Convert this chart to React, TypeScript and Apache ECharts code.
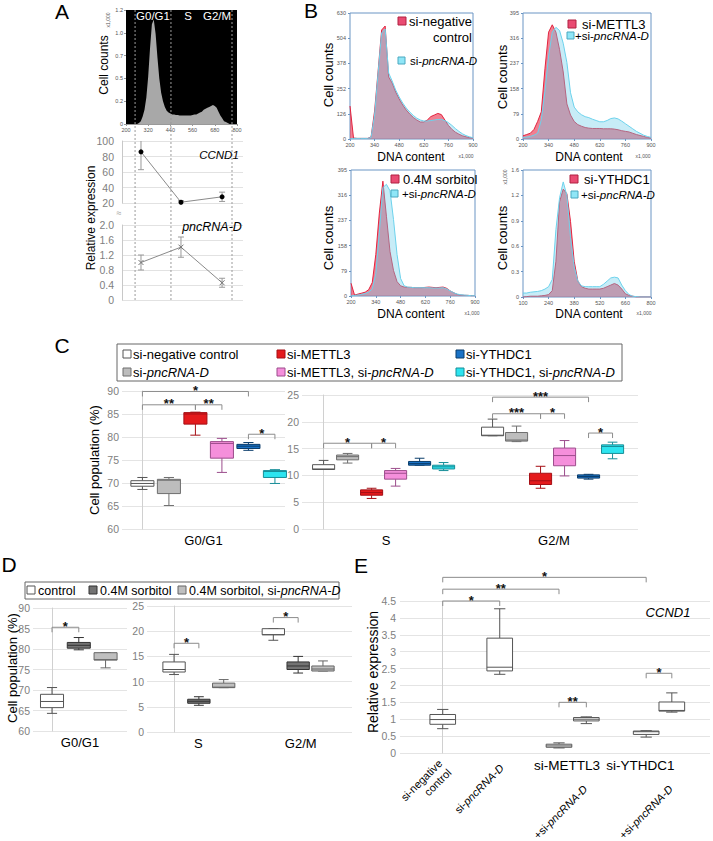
import React, { useEffect, useRef } from 'react';
import * as echarts from 'echarts';

const FONT = '"Liberation Sans", Arial, Helvetica, sans-serif';

/* ================= Panel A data ================= */
const aHistBinStart = 200;
const aHistBinStep = 10;
const aHistCounts = [
  0, 0, 0, 0, 0, 0, 0, 0.01, 0.03, 0.08,
  0.15, 0.28, 0.5, 0.8, 1.05, 1.1, 0.95, 0.7, 0.48, 0.33,
  0.24, 0.18, 0.14, 0.12, 0.11, 0.1, 0.1, 0.095, 0.095, 0.09,
  0.09, 0.09, 0.09, 0.09, 0.09, 0.09, 0.095, 0.1, 0.1, 0.11,
  0.12, 0.13, 0.15, 0.16, 0.17, 0.18, 0.19, 0.2, 0.19, 0.17,
  0.13, 0.09, 0.06, 0.03, 0.02, 0.01, 0, 0, 0, 0, 0,
];
const aHistXTicks = ['200', '320', '440', '560', '680', '800'];
const aHistYTicks = ['0', '0.2', '0.5', '0.7', '1.0', '1.2'];
const aPhaseNames = ['G0/G1', 'S', 'G2/M'];
const aPhaseDNA = [281, 497, 719];
const aPhaseBounds = [249, 443, 773];
const aCCND1 = [86, 21, 28];
const aCCND1Err = [23, 2, 6];
const aPnc = [1.0, 1.41, 0.46];
const aPncErr = [0.2, 0.27, 0.12];

/* ================= Panel B data ================= */
const bBinStep = 20;
const bBinStarts = [200, 200, 200, 100];
const b1Red = [165, 5, 3, 3, 3, 3, 10, 140, 340, 545, 565, 310, 280, 235, 200, 170, 145, 125, 108, 95, 85, 85, 95, 112, 120, 128, 122, 95, 68, 48, 34, 24, 16, 11, 7, 5];
const b1Cyan = [0, 3, 3, 3, 3, 3, 8, 120, 330, 530, 550, 330, 290, 245, 210, 180, 155, 135, 118, 104, 95, 90, 90, 92, 95, 98, 98, 92, 82, 68, 52, 38, 26, 17, 11, 6];
const b2Red = [10, 14, 18, 30, 55, 85, 220, 335, 358, 335, 280, 210, 110, 75, 55, 45, 40, 36, 34, 33, 33, 33, 32, 32, 32, 31, 29, 26, 24, 22, 18, 14, 11, 8, 5, 3];
const b2Cyan = [5, 6, 8, 12, 18, 60, 150, 260, 335, 350, 340, 300, 240, 145, 100, 85, 76, 70, 67, 62, 58, 54, 54, 58, 64, 66, 63, 56, 48, 40, 32, 24, 18, 12, 8, 5];
const b3Red = [40, 3, 6, 9, 12, 20, 42, 130, 260, 360, 250, 140, 80, 45, 32, 28, 27, 27, 26, 26, 26, 27, 28, 27, 26, 27, 28, 24, 16, 10, 5, 3, 2, 2, 1, 1];
const b3Cyan = [0, 2, 3, 5, 8, 12, 22, 70, 200, 340, 350, 330, 240, 130, 55, 32, 28, 27, 26, 26, 26, 26, 26, 25, 25, 25, 26, 22, 16, 10, 6, 4, 3, 2, 1, 1];
const b4Red = [0, 0.005, 0.01, 0.01, 0.01, 0.015, 0.02, 0.03, 0.08, 0.45, 1.2, 1.36, 1.3, 0.95, 0.45, 0.2, 0.13, 0.11, 0.1, 0.1, 0.1, 0.1, 0.11, 0.13, 0.15, 0.17, 0.15, 0.1, 0.04, 0.02, 0.01, 0, 0, 0, 0, 0];
const b4Cyan = [0.05, 0.05, 0.06, 0.065, 0.07, 0.08, 0.1, 0.13, 0.22, 0.85, 1.25, 1.45, 1.28, 0.75, 0.38, 0.2, 0.14, 0.13, 0.13, 0.13, 0.13, 0.13, 0.16, 0.2, 0.24, 0.25, 0.24, 0.15, 0.08, 0.03, 0.01, 0.005, 0, 0, 0, 0];
const bYTicks1 = ['0', '126', '252', '378', '504', '630'];
const bYTicks23 = ['0', '79', '158', '237', '316', '395'];
const bYTicks4 = ['0', '0.3', '0.6', '0.9', '1.2', '1.6'];
const bXTicks = ['200', '340', '480', '620', '760', '900'];
const bXTicks4 = ['100', '240', '380', '520', '660', '800'];
const bRedNames = ['si-negative control', 'si-METTL3', '0.4M sorbitol', 'si-YTHDC1'];
const bCyanNames = ['si-pncRNA-D', '+si-pncRNA-D', '+si-pncRNA-D', '+si-pncRNA-D'];

/* ================= Panel C data ================= */
const cConditions = ['si-negative control', 'si-pncRNA-D', 'si-METTL3', 'si-METTL3, si-pncRNA-D', 'si-YTHDC1', 'si-YTHDC1, si-pncRNA-D'];
const cPhasesRight = ['S', 'G2/M'];
// [min, q1, median, q3, max]
const cG0G1 = [
  [68.6, 69.3, 69.9, 70.5, 71.2],
  [65.1, 67.7, 70.6, 70.8, 71.2],
  [80.4, 82.8, 85.0, 85.3, 85.4],
  [72.3, 75.4, 78.6, 79.0, 79.7],
  [77.1, 77.5, 78.0, 78.4, 78.8],
  [69.9, 71.2, 72.5, 72.7, 72.9],
];
const cS = [
  [11.1, 11.1, 11.2, 12.0, 12.8],
  [12.3, 12.9, 13.5, 13.8, 14.1],
  [5.7, 6.3, 6.8, 7.3, 7.6],
  [8.0, 9.3, 10.4, 10.9, 11.3],
  [11.9, 11.9, 12.2, 12.6, 13.2],
  [10.9, 11.2, 11.6, 11.9, 12.4],
];
const cG2M = [
  [17.4, 17.4, 17.5, 19.0, 20.5],
  [16.3, 16.4, 16.6, 18.0, 19.2],
  [7.6, 8.3, 9.0, 10.4, 11.7],
  [9.9, 11.8, 13.7, 15.1, 16.5],
  [9.3, 9.5, 9.8, 10.1, 10.2],
  [13.1, 14.1, 15.4, 15.7, 16.2],
];
// [fromCondition, toCondition, y, label]
const cG0G1Sig: any[] = [[0, 4, 89.9, '*'], [0, 2, 87.0, '**'], [2, 3, 87.0, '**'], [4, 5, 80.6, '*']];
// [phase, fromCondition, toCondition, y, label]
const cRightSig: any[] = [[0, 0, 2, 16.0, '*'], [0, 2, 3, 16.0, '*'], [1, 0, 4, 24.6, '***'], [1, 0, 2, 21.5, '***'], [1, 2, 3, 21.5, '*'], [1, 4, 5, 17.9, '*']];

/* ================= Panel D data ================= */
const dConditions = ['control', '0.4M sorbitol', '0.4M sorbitol, si-pncRNA-D'];
const dG0G1 = [[64.3, 65.7, 67.2, 68.95, 70.6], [79.8, 80.2, 80.9, 81.6, 82.8], [75.4, 77.3, 77.4, 79.1, 79.1]];
const dS = [[11.4, 11.9, 12.4, 13.9, 15.4], [5.3, 5.7, 6.1, 6.5, 7.0], [8.8, 8.8, 8.9, 9.7, 10.4]];
const dG2M = [[18.2, 19.3, 19.3, 20.5, 20.5], [11.7, 12.4, 13.1, 13.9, 15.0], [12.1, 12.1, 12.5, 13.1, 14.1]];
const dG0G1Sig: any[] = [[0, 1, 85.3, '*']];
const dRightSig: any[] = [[0, 0, 1, 17.6, '*'], [1, 0, 1, 22.7, '*']];

/* ================= Panel E data ================= */
const eAxisLabels = ['si-negative\ncontrol', 'si-pncRNA-D', 'si-METTL3', '+si-pncRNA-D', 'si-YTHDC1', '+si-pncRNA-D'];
const eBoxes = [
  [0.72, 0.85, 0.99, 1.14, 1.29],
  [2.33, 2.43, 2.54, 3.40, 4.27],
  [0.15, 0.17, 0.21, 0.26, 0.30],
  [0.87, 0.95, 1.00, 1.05, 1.07],
  [0.47, 0.55, 0.63, 0.65, 0.66],
  [1.21, 1.24, 1.26, 1.51, 1.78],
];
const eSig: any[] = [[0, 1, 4.5, '*'], [0, 2, 4.85, '**'], [0, 4, 5.2, '*'], [2, 3, 1.5, '**'], [4, 5, 2.36, '*']];

/* ================= layout & style (not data) ================= */
const cLeftPos = [0, 1, 2, 3, 4, 5];
const cRightPhaseStart = [0, 7.04];
const dLeftPos = [0, 1, 2];
const dRightPhaseStart = [0, 4];
const ePos = [0, 1, 2.04, 2.52, 3.57, 4.02];
const eLabelAt = [0, 1, 2.18, 2.52, 3.47, 4.02];
const eLabelMode = ['rot', 'rot', 'flat', 'rotLow', 'flat', 'rotLow'];
const cFill = ['#ffffff', '#bdbdbd', '#e41a1c', '#f58fdb', '#1a72c6', '#2de4ef'];
const cStroke = ['#555555', '#6e6e6e', '#a50f15', '#9c4d8c', '#0b3d6b', '#178e98'];
const dFill = ['#ffffff', '#737373', '#bfbfbf'];
const dStroke = ['#555555', '#333333', '#666666'];

const ital = (s: string) => s.replace('pncRNA-D', '{i|pncRNA-D}');

function T(x: number, y: number, text: string, size: number, o: any = {}) {
  const fill = o.fill || '#000';
  const align = o.align || 'left';
  const va = o.va || 'middle';
  return {
    type: 'text', x, y, rotation: o.rot || 0, silent: true, z: 100,
    style: {
      text: ital(text), fill, fontSize: size, fontFamily: FONT,
      fontStyle: o.italic ? 'italic' : 'normal',
      align, verticalAlign: va, textAlign: align, textVerticalAlign: va,
      rich: { i: { fontStyle: 'italic', fontSize: size, fontFamily: FONT, fill } },
    },
  };
}

function lbl(arr: string[], min: number, step: number) {
  return (v: number) => {
    const k = Math.round((v - min) / step);
    return arr[k] !== undefined ? arr[k] : '';
  };
}

function boxRenderer(fill: string, stroke: string, widthUnits: number) {
  return (params: any, api: any) => {
    const x = api.value(0);
    const c = (d: number) => api.coord([x, api.value(d)]);
    const pMin = c(1), pQ1 = c(2), pMed = c(3), pQ3 = c(4), pMax = c(5);
    const cx = pMin[0];
    const w = api.size([widthUnits, 0])[0];
    const hw = w / 2, cap = w * 0.22;
    const ls = { stroke, lineWidth: 1 };
    return {
      type: 'group', children: [
        { type: 'line', shape: { x1: cx, y1: pMax[1], x2: cx, y2: pQ3[1] }, style: ls },
        { type: 'line', shape: { x1: cx - cap, y1: pMax[1], x2: cx + cap, y2: pMax[1] }, style: ls },
        { type: 'line', shape: { x1: cx, y1: pQ1[1], x2: cx, y2: pMin[1] }, style: ls },
        { type: 'line', shape: { x1: cx - cap, y1: pMin[1], x2: cx + cap, y2: pMin[1] }, style: ls },
        { type: 'rect', shape: { x: cx - hw, y: pQ3[1], width: w, height: Math.max(1, pQ1[1] - pQ3[1]) }, style: { fill, stroke, lineWidth: 1 } },
        { type: 'line', shape: { x1: cx - hw, y1: pMed[1], x2: cx + hw, y2: pMed[1] }, style: ls },
      ],
    };
  };
}

function bracketRenderer(labels: string[], leg = 5) {
  return (params: any, api: any) => {
    const p1 = api.coord([api.value(0), api.value(2)]);
    const p2 = api.coord([api.value(1), api.value(2)]);
    return {
      type: 'group', children: [
        { type: 'polyline', shape: { points: [[p1[0], p1[1] + leg], [p1[0], p1[1]], [p2[0], p2[1]], [p2[0], p2[1] + leg]] }, style: { stroke: '#8c8c8c', fill: 'none', lineWidth: 1 } },
        { type: 'text', x: (p1[0] + p2[0]) / 2, y: p1[1] - 1, style: { text: labels[params.dataIndex], fill: '#111', fontSize: 13, fontWeight: 'bold', fontFamily: FONT, align: 'center', verticalAlign: 'middle', textAlign: 'center', textVerticalAlign: 'middle' } },
      ],
    };
  };
}

function errRenderer(color: string) {
  return (params: any, api: any) => {
    const x = api.value(0);
    const lo = api.coord([x, api.value(1)]);
    const hi = api.coord([x, api.value(2)]);
    const st = { stroke: color, lineWidth: 1 };
    return {
      type: 'group', children: [
        { type: 'line', shape: { x1: lo[0], y1: lo[1], x2: hi[0], y2: hi[1] }, style: st },
        { type: 'line', shape: { x1: lo[0] - 3, y1: lo[1], x2: lo[0] + 3, y2: lo[1] }, style: st },
        { type: 'line', shape: { x1: hi[0] - 3, y1: hi[1], x2: hi[0] + 3, y2: hi[1] }, style: st },
      ],
    };
  };
}

function buildOption() {
  const grids: any[] = [], xAxes: any[] = [], yAxes: any[] = [], series: any[] = [], graphic: any[] = [];
  const addGrid = (g: any) => { grids.push({ containLabel: false, outerBoundsMode: 'none', ...g }); return grids.length - 1; };
  const addX = (a: any) => { xAxes.push({ position: 'bottom', ...a }); return xAxes.length - 1; };
  const addY = (a: any) => { yAxes.push(a); return yAxes.length - 1; };
  const grayLbl = { fontSize: 10.5, color: '#808080', fontFamily: FONT };

  /* ---------- A: histogram ---------- */
  const gAH = addGrid({ left: 126, top: 10, width: 111, height: 114, show: true, backgroundColor: '#000', borderWidth: 0 });
  const xAH = addX({ type: 'value', gridIndex: gAH, min: 200, max: 800, interval: 120, axisLine: { show: true, lineStyle: { color: '#999' } }, axisTick: { show: true, length: 2, lineStyle: { color: '#999' } }, axisLabel: { fontSize: 5.5, color: '#555', margin: 3, formatter: lbl(aHistXTicks, 200, 120) }, splitLine: { show: false } });
  const yAH = addY({ type: 'value', gridIndex: gAH, min: 0, max: 1.2, interval: 0.24, axisLine: { show: false }, axisTick: { show: true, length: 2, lineStyle: { color: '#999' } }, axisLabel: { fontSize: 5.5, color: '#555', margin: 3, formatter: lbl(aHistYTicks, 0, 0.24) }, splitLine: { show: false } });
  series.push({ type: 'line', xAxisIndex: xAH, yAxisIndex: yAH, data: aHistCounts.map((c, i) => [aHistBinStart + i * aHistBinStep, c]), symbol: 'none', lineStyle: { width: 0, color: '#a8a8a8' }, areaStyle: { color: '#a8a8a8', opacity: 1 }, z: 2 });

  /* ---------- A: relative expression (broken axis) ---------- */
  const gA1 = addGrid({ left: 122, top: 141, width: 121, height: 62 });
  const xA1 = addX({ type: 'value', gridIndex: gA1, min: 178.4, max: 832, show: false });
  const yA1 = addY({ type: 'value', gridIndex: gA1, min: 20, max: 100, interval: 20, axisLine: { show: true, lineStyle: { color: '#c8c8c8' } }, axisTick: { show: false }, axisLabel: { ...grayLbl, margin: 8 }, splitLine: { lineStyle: { color: '#e2e2e2' } } });
  const gA2 = addGrid({ left: 122, top: 225, width: 121, height: 75 });
  const xA2 = addX({ type: 'value', gridIndex: gA2, min: 178.4, max: 832, show: false });
  const yA2 = addY({ type: 'value', gridIndex: gA2, min: 0, max: 2, interval: 0.4, axisLine: { show: true, lineStyle: { color: '#c8c8c8' } }, axisTick: { show: false }, axisLabel: { ...grayLbl, margin: 8, formatter: (v: number) => (v === 0 ? '0' : v.toFixed(1)) }, splitLine: { lineStyle: { color: '#e2e2e2' } } });

  series.push({ type: 'line', name: 'CCND1', xAxisIndex: xA1, yAxisIndex: yA1, data: aPhaseDNA.map((x, i) => [x, aCCND1[i]]), symbol: 'circle', symbolSize: 5, itemStyle: { color: '#000' }, lineStyle: { color: '#8a8a8a', width: 1 }, z: 6 });
  series.push({ type: 'custom', xAxisIndex: xA1, yAxisIndex: yA1, clip: true, encode: { x: 0, y: [1, 2] }, data: aPhaseDNA.map((x, i) => [x, aCCND1[i] - aCCND1Err[i], aCCND1[i] + aCCND1Err[i]]), renderItem: errRenderer('#999'), z: 5 });
  series.push({ type: 'line', name: 'pncRNA-D', xAxisIndex: xA2, yAxisIndex: yA2, data: aPhaseDNA.map((x, i) => [x, aPnc[i]]), symbol: 'path://M0,0L10,10M10,0L0,10', symbolSize: 5, itemStyle: { color: 'none', borderColor: '#777', borderWidth: 1 }, lineStyle: { color: '#8a8a8a', width: 1 }, z: 6 });
  series.push({ type: 'custom', xAxisIndex: xA2, yAxisIndex: yA2, clip: true, encode: { x: 0, y: [1, 2] }, data: aPhaseDNA.map((x, i) => [x, aPnc[i] - aPncErr[i], aPnc[i] + aPncErr[i]]), renderItem: errRenderer('#999'), z: 5 });

  /* ---------- A: phase boundary dotted lines ---------- */
  const gAO = addGrid({ left: 126, top: 10, width: 111, height: 290 });
  const xAO = addX({ type: 'value', gridIndex: gAO, min: 200, max: 800, show: false });
  const yAO = addY({ type: 'value', gridIndex: gAO, min: 0, max: 1, show: false });
  series.push({
    type: 'custom', xAxisIndex: xAO, yAxisIndex: yAO, encode: { x: 0, y: 1 }, z: 4, data: aPhaseBounds.map((v) => [v, 0]),
    renderItem: (p: any, api: any) => {
      const a = api.coord([api.value(0), 0]);
      const b = api.coord([api.value(0), 1]);
      return { type: 'line', shape: { x1: a[0], y1: a[1], x2: b[0], y2: b[1] }, style: { stroke: '#9a9a9a', lineWidth: 1, lineDash: [2, 2] } };
    },
  });

  /* ---------- B: four DNA histograms ---------- */
  const bDefs = [
    { left: 350, top: 13, width: 123, height: 126, xMin: 200, xMax: 900, yMax: 630, yInt: 126, yT: bYTicks1, xT: bXTicks, red: b1Red, cyan: b1Cyan },
    { left: 523, top: 13, width: 128, height: 126, xMin: 200, xMax: 900, yMax: 395, yInt: 79, yT: bYTicks23, xT: bXTicks, red: b2Red, cyan: b2Cyan },
    { left: 351, top: 170, width: 124, height: 126, xMin: 200, xMax: 900, yMax: 395, yInt: 79, yT: bYTicks23, xT: bXTicks, red: b3Red, cyan: b3Cyan },
    { left: 523, top: 170, width: 128, height: 127, xMin: 100, xMax: 800, yMax: 1.6, yInt: 0.32, yT: bYTicks4, xT: bXTicks4, red: b4Red, cyan: b4Cyan },
  ];
  bDefs.forEach((d, k) => {
    const g = addGrid({ left: d.left, top: d.top, width: d.width, height: d.height, show: true, borderColor: '#6a95c4', borderWidth: 1, backgroundColor: '#fff' });
    const xi = addX({ type: 'value', gridIndex: g, min: d.xMin, max: d.xMax, interval: 140, axisLine: { show: false }, axisTick: { show: true, length: 2, lineStyle: { color: '#6a95c4' } }, axisLabel: { fontSize: 5.5, color: '#555', margin: 3, formatter: lbl(d.xT, d.xMin, 140) }, splitLine: { show: false } });
    const yi = addY({ type: 'value', gridIndex: g, min: 0, max: d.yMax, interval: d.yInt, axisLine: { show: false }, axisTick: { show: true, length: 2, lineStyle: { color: '#6a95c4' } }, axisLabel: { fontSize: 5.5, color: '#555', margin: 4, formatter: lbl(d.yT, 0, d.yInt) }, splitLine: { show: false } });
    series.push({ type: 'line', name: bRedNames[k], xAxisIndex: xi, yAxisIndex: yi, data: d.red.map((v, i) => [bBinStarts[k] + i * bBinStep, v]), symbol: 'none', lineStyle: { color: '#e2243f', width: 1 }, areaStyle: { color: 'rgba(232,40,70,0.85)' }, z: 2 });
    series.push({ type: 'line', name: bCyanNames[k], xAxisIndex: xi, yAxisIndex: yi, data: d.cyan.map((v, i) => [bBinStarts[k] + i * bBinStep, v]), symbol: 'none', lineStyle: { color: '#6cd2ec', width: 1 }, areaStyle: { color: 'rgba(110,205,235,0.55)' }, z: 3 });
  });

  /* ---------- C: box plots ---------- */
  const yStyle = (min: number, max: number) => ({ type: 'value', min, max, interval: 5, axisLine: { show: true, lineStyle: { color: '#d0d0d0' } }, axisTick: { show: false }, axisLabel: { ...grayLbl, margin: 3 }, splitLine: { lineStyle: { color: '#e4e4e4' } } });
  const catAxis = (g: number, data: string[]) => ({ type: 'category', gridIndex: g, data, axisLine: { show: false }, axisTick: { show: false }, axisLabel: { fontSize: 13, color: '#000', fontFamily: FONT, margin: 5 }, splitLine: { show: false } });

  const gCL = addGrid({ left: 122, top: 391, width: 163, height: 138 });
  const xCL = addX({ type: 'value', gridIndex: gCL, min: -0.77, max: 5.38, show: false });
  addX(catAxis(gCL, ['G0/G1']));
  const yCL = addY({ ...yStyle(60, 90), gridIndex: gCL });
  cConditions.forEach((name, ci) => {
    series.push({ type: 'custom', name, xAxisIndex: xCL, yAxisIndex: yCL, encode: { x: 0, y: [1, 2, 3, 4, 5] }, data: [[cLeftPos[ci], ...cG0G1[ci]]], renderItem: boxRenderer(cFill[ci], cStroke[ci], 0.87), z: 3 });
  });
  series.push({ type: 'custom', xAxisIndex: xCL, yAxisIndex: yCL, clip: false, z: 4, encode: { x: [0, 1], y: 2 }, data: cG0G1Sig.map((s) => [cLeftPos[s[0]], cLeftPos[s[1]], s[2]]), renderItem: bracketRenderer(cG0G1Sig.map((s) => s[3])) });

  const gCR = addGrid({ left: 302, top: 395, width: 336, height: 134 });
  const xCR = addX({ type: 'value', gridIndex: gCR, min: -0.9, max: 13.1, show: false });
  addX(catAxis(gCR, cPhasesRight));
  const yCR = addY({ ...yStyle(0, 25), gridIndex: gCR });
  cConditions.forEach((name, ci) => {
    series.push({ type: 'custom', name, xAxisIndex: xCR, yAxisIndex: yCR, encode: { x: 0, y: [1, 2, 3, 4, 5] }, data: [[cRightPhaseStart[0] + ci, ...cS[ci]], [cRightPhaseStart[1] + ci, ...cG2M[ci]]], renderItem: boxRenderer(cFill[ci], cStroke[ci], 0.92), z: 3 });
  });
  series.push({ type: 'custom', xAxisIndex: xCR, yAxisIndex: yCR, clip: false, z: 4, encode: { x: [0, 1], y: 2 }, data: cRightSig.map((s) => [cRightPhaseStart[s[0]] + s[1], cRightPhaseStart[s[0]] + s[2], s[3]]), renderItem: bracketRenderer(cRightSig.map((s) => s[4])) });

  /* ---------- D: box plots ---------- */
  const gDL = addGrid({ left: 33, top: 608, width: 94, height: 123 });
  const xDL = addX({ type: 'value', gridIndex: gDL, min: -0.71, max: 2.8, show: false });
  addX(catAxis(gDL, ['G0/G1']));
  const yDL = addY({ ...yStyle(60, 90), gridIndex: gDL });
  dConditions.forEach((name, ci) => {
    series.push({ type: 'custom', name, xAxisIndex: xDL, yAxisIndex: yDL, encode: { x: 0, y: [1, 2, 3, 4, 5] }, data: [[dLeftPos[ci], ...dG0G1[ci]]], renderItem: boxRenderer(dFill[ci], dStroke[ci], 0.86), z: 3 });
  });
  series.push({ type: 'custom', xAxisIndex: xDL, yAxisIndex: yDL, clip: false, z: 4, encode: { x: [0, 1], y: 2 }, data: dG0G1Sig.map((s) => [dLeftPos[s[0]], dLeftPos[s[1]], s[2]]), renderItem: bracketRenderer(dG0G1Sig.map((s) => s[3])) });

  const gDR = addGrid({ left: 147, top: 606, width: 205, height: 126 });
  const xDR = addX({ type: 'value', gridIndex: gDR, min: -1.09, max: 7.17, show: false });
  addX(catAxis(gDR, cPhasesRight));
  const yDR = addY({ ...yStyle(0, 25), gridIndex: gDR });
  dConditions.forEach((name, ci) => {
    series.push({ type: 'custom', name, xAxisIndex: xDR, yAxisIndex: yDR, encode: { x: 0, y: [1, 2, 3, 4, 5] }, data: [[dRightPhaseStart[0] + ci, ...dS[ci]], [dRightPhaseStart[1] + ci, ...dG2M[ci]]], renderItem: boxRenderer(dFill[ci], dStroke[ci], 0.9), z: 3 });
  });
  series.push({ type: 'custom', xAxisIndex: xDR, yAxisIndex: yDR, clip: false, z: 4, encode: { x: [0, 1], y: 2 }, data: dRightSig.map((s) => [dRightPhaseStart[s[0]] + s[1], dRightPhaseStart[s[0]] + s[2], s[3]]), renderItem: bracketRenderer(dRightSig.map((s) => s[4])) });

  /* ---------- E: CCND1 box plot ---------- */
  const gE = addGrid({ left: 400, top: 601, width: 310, height: 152 });
  const xE = addX({ type: 'value', gridIndex: gE, min: -0.75, max: 4.69, show: false });
  const yE = addY({ type: 'value', gridIndex: gE, min: 0, max: 4.5, interval: 0.5, axisLine: { show: true, lineStyle: { color: '#d0d0d0' } }, axisTick: { show: false }, axisLabel: { ...grayLbl, margin: 4 }, splitLine: { lineStyle: { color: '#e4e4e4' } } });
  series.push({ type: 'custom', name: 'CCND1', xAxisIndex: xE, yAxisIndex: yE, encode: { x: 0, y: [1, 2, 3, 4, 5] }, data: eBoxes.map((b, i) => [ePos[i], ...b]), renderItem: boxRenderer('#ffffff', '#555555', 0.45), z: 3 });
  series.push({ type: 'custom', xAxisIndex: xE, yAxisIndex: yE, clip: false, z: 4, encode: { x: [0, 1], y: 2 }, data: eSig.map((s) => [ePos[s[0]], ePos[s[1]], s[2]]), renderItem: bracketRenderer(eSig.map((s) => s[3])) });
  series.push({
    type: 'custom', xAxisIndex: xE, yAxisIndex: yE, clip: false, z: 5, encode: { x: 0, y: 1 }, data: eLabelAt.map((a) => [a, 0]),
    renderItem: (p: any, api: any) => {
      const i = p.dataIndex;
      const pt = api.coord([api.value(0), 0]);
      const mode = eLabelMode[i];
      const text = ital(eAxisLabels[i]);
      const fs = mode === 'flat' ? 13.5 : 11;
      const rich = { i: { fontStyle: 'italic', fontSize: fs, fontFamily: FONT, fill: '#000' } };
      if (mode === 'flat') {
        return { type: 'text', x: pt[0], y: pt[1] + 12, style: { text, fill: '#000', fontSize: fs, fontFamily: FONT, align: 'center', verticalAlign: 'middle', textAlign: 'center', textVerticalAlign: 'middle', rich } };
      }
      const dx = mode === 'rot' ? 2 : -1;
      const dy = mode === 'rot' ? 13 : 34;
      return { type: 'text', x: pt[0] + dx, y: pt[1] + dy, rotation: Math.PI / 4, style: { text, fill: '#000', fontSize: fs, lineHeight: 13, fontFamily: FONT, align: 'right', verticalAlign: 'middle', textAlign: 'right', textVerticalAlign: 'middle', rich } };
    },
  });

  /* ---------- graphic texts, legends ---------- */
  const ROT = Math.PI / 2;
  graphic.push(T(62, 11, 'A', 21, { align: 'center' }), T(311, 10, 'B', 21, { align: 'center' }), T(62, 345, 'C', 21, { align: 'center' }), T(9, 564, 'D', 21, { align: 'center' }), T(361, 565, 'E', 21, { align: 'center' }));

  // A
  graphic.push(T(104, 65, 'Cell counts', 12, { rot: ROT, align: 'center' }));
  graphic.push(T(108, 20, 'x1,000', 5, { rot: ROT, align: 'center', fill: '#555' }));
  graphic.push(T(153, 16, aPhaseNames[0], 11.5, { fill: '#fff', align: 'center' }), T(188, 16, aPhaseNames[1], 11.5, { fill: '#fff', align: 'center' }), T(217, 16, aPhaseNames[2], 11.5, { fill: '#fff', align: 'center' }));
  graphic.push(T(91, 218, 'Relative expression', 12, { rot: ROT, align: 'center' }));
  graphic.push(T(219, 155, 'CCND1', 11.5, { italic: true, align: 'center' }));
  graphic.push(T(212, 227, 'pncRNA-D', 12.5, { italic: true, align: 'center' }));
  graphic.push(T(119, 213, '≈', 9, { fill: '#999', align: 'center' }));

  // B
  [[328, 75], [502, 77], [328, 238], [502, 238]].forEach(([x, y]) => graphic.push(T(x, y, 'Cell counts', 13, { rot: ROT, align: 'center' })));
  [[411, 157], [589, 157], [411, 314], [589, 314]].forEach(([x, y]) => graphic.push(T(x, y, 'DNA content', 12, { align: 'center' })));
  [[466, 156], [643, 156], [472, 313], [644, 313]].forEach(([x, y]) => graphic.push(T(x, y, 'x1,000', 5, { align: 'center', fill: '#555' })));
  graphic.push(T(505, 177, 'x1,000', 5, { rot: ROT, align: 'center', fill: '#555' }));
  const sq = (x: number, y: number, fill: string, stroke: string, s = 8) => ({ type: 'rect', shape: { x, y, width: s, height: s }, style: { fill, stroke, lineWidth: 1 }, z: 100, silent: true });
  const RED_SQ = '#e94b72', RED_SQ_B = '#b02040', CY_SQ = '#8fe6f7', CY_SQ_B = '#4aa8c0';
  graphic.push(sq(398, 17, RED_SQ, RED_SQ_B), T(409, 21, 'si-negative', 13), T(472, 37, 'control', 13, { align: 'right' }));
  graphic.push(sq(398, 57, CY_SQ, CY_SQ_B, 7), T(410, 61, bCyanNames[0], 11.5));
  graphic.push(sq(568, 20, RED_SQ, RED_SQ_B), T(582, 24, bRedNames[1], 13));
  graphic.push(sq(567, 32, CY_SQ, CY_SQ_B, 7), T(575, 36, bCyanNames[1], 11.5));
  graphic.push(sq(391, 175, RED_SQ, RED_SQ_B), T(403, 179, bRedNames[2], 13));
  graphic.push(sq(391, 190, CY_SQ, CY_SQ_B, 7), T(402, 194, bCyanNames[2], 11.5));
  graphic.push(sq(570, 175, RED_SQ, RED_SQ_B), T(584, 179, bRedNames[3], 13));
  graphic.push(sq(571, 191, CY_SQ, CY_SQ_B, 7), T(581, 195, bCyanNames[3], 11.5));

  // C legend
  graphic.push({ type: 'rect', shape: { x: 117, y: 344, width: 505, height: 37 }, style: { fill: '#fff', stroke: '#666', lineWidth: 1 }, z: 90, silent: true });
  const cCols = [123, 277, 456], cRows = [354, 372];
  cConditions.forEach((name, ci) => {
    const x = cCols[Math.floor(ci / 2)], y = cRows[ci % 2];
    graphic.push(sq(x, y - 4, cFill[ci], cStroke[ci]), T(x + 10, y, name, 13));
  });
  graphic.push(T(94, 460, 'Cell population (%)', 13, { rot: ROT, align: 'center' }));

  // D legend
  graphic.push({ type: 'rect', shape: { x: 25, y: 582, width: 314, height: 17 }, style: { fill: '#fff', stroke: '#666', lineWidth: 1 }, z: 90, silent: true });
  const dCols = [27, 89, 178];
  dConditions.forEach((name, ci) => {
    graphic.push(sq(dCols[ci], 586, dFill[ci], dStroke[ci]), T(dCols[ci] + 11, 590.5, name, 12.5));
  });
  graphic.push(T(12, 668, 'Cell population (%)', 13, { rot: ROT, align: 'center' }));

  // E
  graphic.push(T(373, 672, 'Relative expression', 14, { rot: ROT, align: 'center' }));
  graphic.push(T(668, 612, 'CCND1', 13, { italic: true, align: 'center' }));

  return {
    animation: false,
    backgroundColor: '#fff',
    textStyle: { fontFamily: FONT },
    grid: grids,
    xAxis: xAxes,
    yAxis: yAxes,
    series,
    graphic: { elements: graphic },
  };
}

export default function App() {
  const ref = useRef<HTMLDivElement>(null);
  useEffect(() => {
    document.body.style.margin = '0';
    const chart = echarts.init(ref.current as HTMLDivElement, undefined, { renderer: 'svg', width: 713, height: 841 });
    chart.setOption(buildOption() as any);
    return () => chart.dispose();
  }, []);
  return <div ref={ref} style={{ width: 713, height: 841 }} />;
}
